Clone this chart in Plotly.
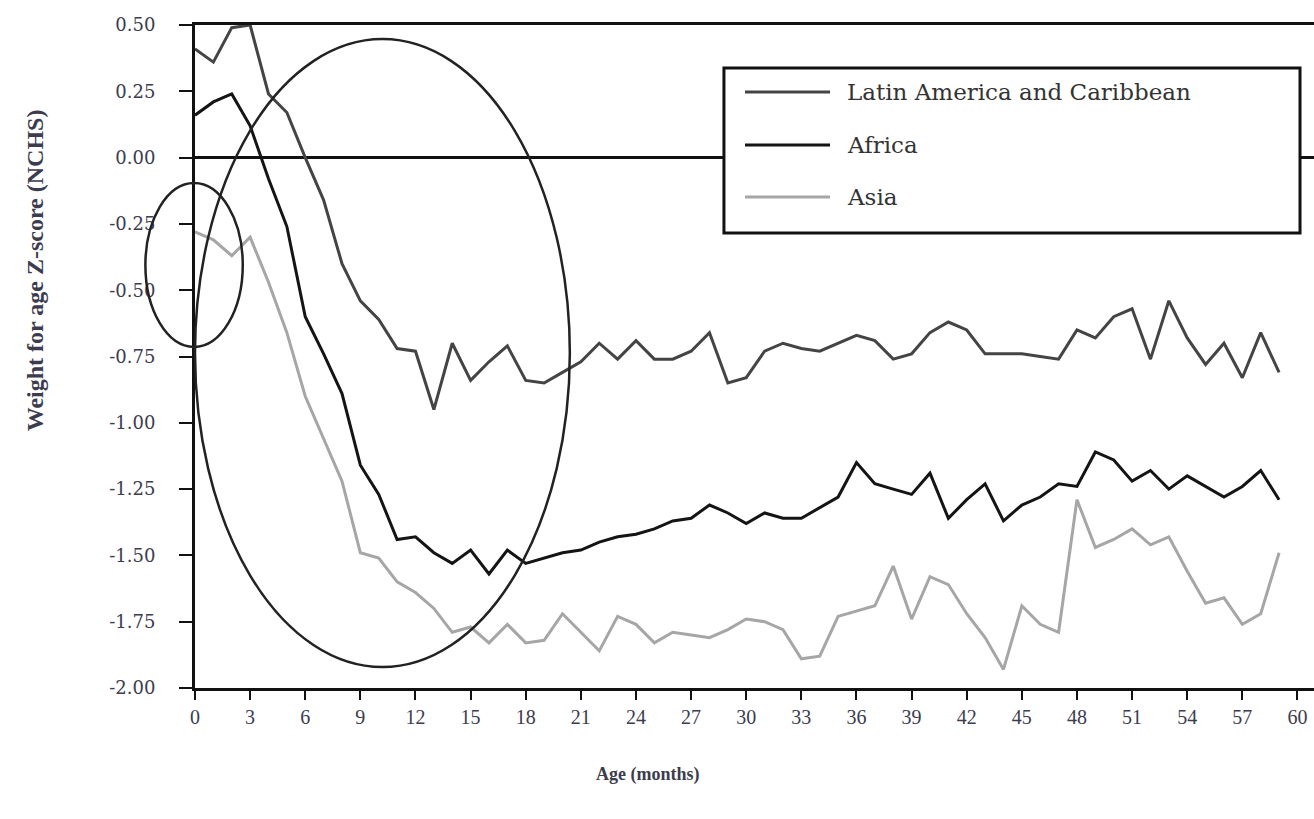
import plotly.graph_objects as go

months = list(range(0, 60))

latin_america = [0.41, 0.36, 0.49, 0.50, 0.24, 0.17, 0.00, -0.16, -0.40, -0.54,
                 -0.61, -0.72, -0.73, -0.95, -0.70, -0.84, -0.77, -0.71, -0.84, -0.85,
                 -0.81, -0.77, -0.70, -0.76, -0.69, -0.76, -0.76, -0.73, -0.66, -0.85,
                 -0.83, -0.73, -0.70, -0.72, -0.73, -0.70, -0.67, -0.69, -0.76, -0.74,
                 -0.66, -0.62, -0.65, -0.74, -0.74, -0.74, -0.75, -0.76, -0.65, -0.68,
                 -0.60, -0.57, -0.76, -0.54, -0.68, -0.78, -0.70, -0.83, -0.66, -0.81]

africa = [0.16, 0.21, 0.24, 0.12, -0.08, -0.26, -0.60, -0.74, -0.89, -1.16,
          -1.27, -1.44, -1.43, -1.49, -1.53, -1.48, -1.57, -1.48, -1.53, -1.51,
          -1.49, -1.48, -1.45, -1.43, -1.42, -1.40, -1.37, -1.36, -1.31, -1.34,
          -1.38, -1.34, -1.36, -1.36, -1.32, -1.28, -1.15, -1.23, -1.25, -1.27,
          -1.19, -1.36, -1.29, -1.23, -1.37, -1.31, -1.28, -1.23, -1.24, -1.11,
          -1.14, -1.22, -1.18, -1.25, -1.20, -1.24, -1.28, -1.24, -1.18, -1.29]

asia = [-0.28, -0.31, -0.37, -0.30, -0.47, -0.66, -0.90, -1.06, -1.22, -1.49,
        -1.51, -1.60, -1.64, -1.70, -1.79, -1.77, -1.83, -1.76, -1.83, -1.82,
        -1.72, -1.79, -1.86, -1.73, -1.76, -1.83, -1.79, -1.80, -1.81, -1.78,
        -1.74, -1.75, -1.78, -1.89, -1.88, -1.73, -1.71, -1.69, -1.54, -1.74,
        -1.58, -1.61, -1.72, -1.81, -1.93, -1.69, -1.76, -1.79, -1.29, -1.47,
        -1.44, -1.40, -1.46, -1.43, -1.56, -1.68, -1.66, -1.76, -1.72, -1.49]

series_names = ["Latin America and Caribbean", "Africa", "Asia"]
series_colors = ["#444444", "#141414", "#a6a6a6"]

x_tickvals = list(range(0, 61, 3))
x_ticktext = [str(v) for v in x_tickvals]
y_tickvals = [0.50, 0.25, 0.00, -0.25, -0.50, -0.75, -1.00, -1.25, -1.50, -1.75, -2.00]
y_ticktext = ["0.50", "0.25", "0.00", "-0.25", "-0.50", "-0.75", "-1.00", "-1.25", "-1.50", "-1.75", "-2.00"]

# highlighted regions (month range, z-score range)
small_ellipse = dict(x0=-2.7, x1=2.6, y0=-0.714, y1=-0.096)
large_ellipse = dict(x0=0.0, x1=20.4, y0=-1.921, y1=0.447)

X_RANGE = [0, 60.9]
Y_RANGE = [-2.0, 0.5]

SERIF = "Liberation Serif"
LABEL_COLOR = "#3c3c4e"

fig = go.Figure()
for name, vals, col in zip(series_names, [latin_america, africa, asia], series_colors):
    fig.add_trace(go.Scatter(x=months, y=vals, mode="lines", name=name,
                             showlegend=False,
                             line=dict(color=col, width=3)))


def xd(v):
    return (v - X_RANGE[0]) / (X_RANGE[1] - X_RANGE[0])


def yd(v):
    return (v - Y_RANGE[0]) / (Y_RANGE[1] - Y_RANGE[0])


for e in (small_ellipse, large_ellipse):
    fig.add_shape(type="circle", xref="x domain", yref="y domain",
                  x0=xd(e["x0"]), x1=xd(e["x1"]), y0=yd(e["y0"]), y1=yd(e["y1"]),
                  line=dict(color="#222222", width=2.5), layer="above")

# legend box (drawn in paper coordinates)
LEG_BOX = dict(x0=0.4727, x1=0.9875, y0=0.6863, y1=0.9351)
LEG_LINE_X = (0.4915, 0.5675)
LEG_TEXT_X = 0.5809
LEG_ROWS_Y = [0.8989, 0.8190, 0.7406]

fig.add_shape(type="rect", xref="paper", yref="paper", layer="above",
              fillcolor="white", line=dict(color="#111111", width=3), **LEG_BOX)
for name, col, ry in zip(series_names, series_colors, LEG_ROWS_Y):
    fig.add_shape(type="line", xref="paper", yref="paper", layer="above",
                  x0=LEG_LINE_X[0], x1=LEG_LINE_X[1], y0=ry, y1=ry,
                  line=dict(color=col, width=3))
    fig.add_annotation(text=name, xref="paper", yref="paper", x=LEG_TEXT_X, y=ry,
                       xanchor="left", yanchor="middle", showarrow=False,
                       font=dict(family="DejaVu Serif", size=23, color="#333333"))

fig.update_layout(
    width=1314, height=819,
    margin=dict(l=195, r=0, t=25, b=131),
    paper_bgcolor="white", plot_bgcolor="white",
    font=dict(family=SERIF, color=LABEL_COLOR),
    showlegend=False,
    xaxis=dict(range=X_RANGE, tickvals=x_tickvals, ticktext=x_ticktext,
               showline=True, linecolor="#111111", linewidth=3, mirror=True,
               ticks="outside", ticklen=9, tickwidth=2, tickcolor="#111111",
               showgrid=False, zeroline=False,
               tickfont=dict(family=SERIF, size=20, color=LABEL_COLOR)),
    yaxis=dict(range=Y_RANGE, tickvals=y_tickvals, ticktext=y_ticktext,
               showline=True, linecolor="#111111", linewidth=3,
               ticks="outside", ticklen=13, tickwidth=2, tickcolor="#111111",
               ticklabelstandoff=20,
               showgrid=False, zeroline=True, zerolinecolor="#111111", zerolinewidth=2.5,
               tickfont=dict(family="DejaVu Serif", size=18, color=LABEL_COLOR)),
)

fig.add_annotation(text="<b>Weight for age Z-score (NCHS)</b>", textangle=-90,
                   xref="paper", yref="paper", x=-0.143, y=0.63,
                   xanchor="center", yanchor="middle",
                   showarrow=False, font=dict(family=SERIF, size=24, color=LABEL_COLOR))
fig.add_annotation(text="<b>Age (months)</b>",
                   xref="paper", yref="paper", x=0.405, y=-0.131,
                   xanchor="center", yanchor="middle",
                   showarrow=False, font=dict(family=SERIF, size=18, color=LABEL_COLOR))

fig.write_html("out.html",
               config={"displayModeBar": False},
               post_script="document.body.style.margin='0';document.body.style.overflow='hidden';")
